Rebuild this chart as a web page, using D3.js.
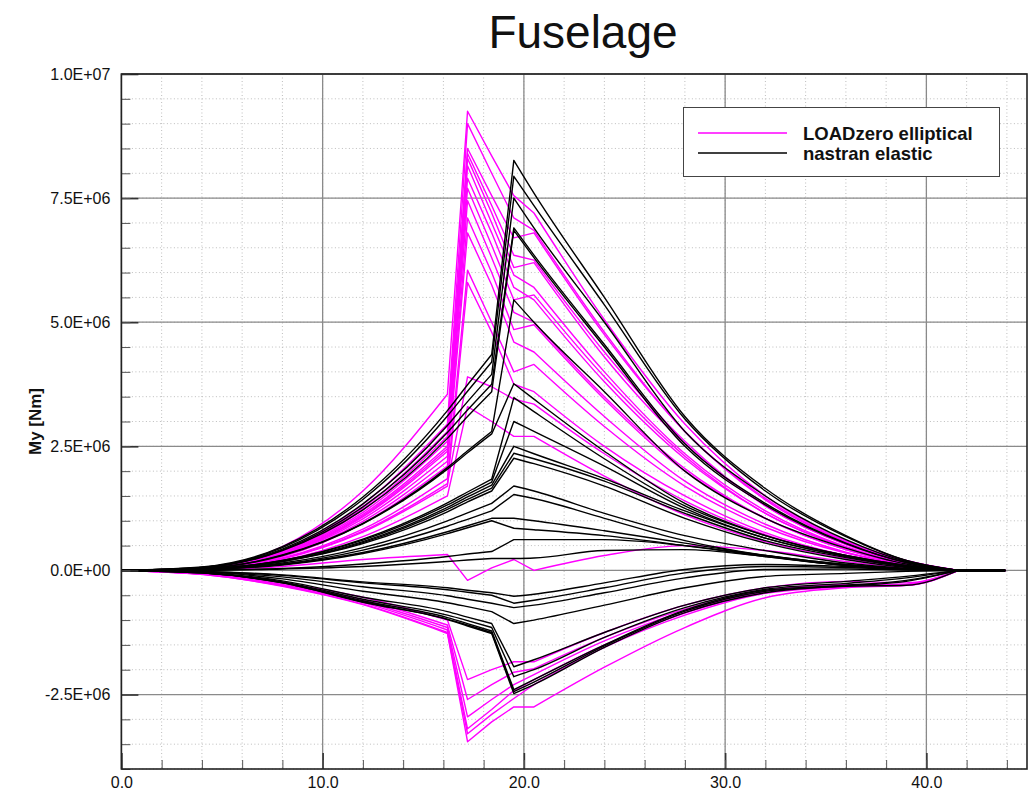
<!DOCTYPE html>
<html>
<head>
<meta charset="utf-8">
<script src="https://cdn.jsdelivr.net/npm/d3@7"></script>
<style>
    body { margin: 0; background: #fff; }
    text { font-family: "Liberation Sans", Arial, Helvetica, sans-serif; }
</style>
</head>
<body>
<svg id="chart" width="1031" height="791"></svg>
<script>
// fuselage stations [m]
var stations = [0, 4, 8, 12, 16.2, 17.2, 18.4, 19.5, 20.5, 24, 28, 32, 36, 39, 41.6, 43.9]

// My in 1e6 Nm, one row per load case, values at the stations above
var loadzeroMy = [
    [0, 0.05, 0.48, 1.6, 3.55, 9.25, 8.35, 7.55, 7.2, 5.05, 2.95, 1.5, 0.6, 0.2, 0, 0],
    [0, 0.04, 0.4, 1.33, 2.95, 9.0, 8.0, 7.1, 6.85, 4.8, 2.8, 1.45, 0.58, 0.19, 0, 0],
    [0, 0.04, 0.38, 1.26, 2.8, 8.5, 7.55, 6.7, 6.8, 4.75, 2.8, 1.42, 0.57, 0.18, 0, 0],
    [0, 0.04, 0.36, 1.22, 2.7, 8.4, 7.35, 6.35, 6.25, 4.4, 2.6, 1.3, 0.53, 0.17, 0, 0],
    [0, 0.04, 0.35, 1.17, 2.6, 8.3, 7.2, 6.1, 6.2, 4.3, 2.55, 1.3, 0.52, 0.16, 0, 0],
    [0, 0.04, 0.34, 1.13, 2.5, 8.15, 7.0, 5.95, 5.7, 4.0, 2.35, 1.2, 0.48, 0.15, 0, 0],
    [0, 0.04, 0.33, 1.1, 2.45, 7.9, 6.8, 5.7, 5.45, 3.8, 2.25, 1.15, 0.46, 0.14, 0, 0],
    [0, 0.04, 0.32, 1.08, 2.4, 7.7, 6.55, 5.45, 5.55, 3.9, 2.3, 1.15, 0.47, 0.15, 0, 0],
    [0, 0.03, 0.31, 1.04, 2.3, 7.45, 6.3, 5.2, 5.0, 3.5, 2.05, 1.05, 0.42, 0.13, 0, 0],
    [0, 0.03, 0.3, 0.99, 2.2, 7.1, 6.0, 4.85, 4.95, 3.45, 2.0, 1.05, 0.42, 0.13, 0, 0],
    [0, 0.03, 0.28, 0.95, 2.1, 6.8, 5.75, 4.6, 4.4, 3.1, 1.8, 0.93, 0.37, 0.12, 0, 0],
    [0, 0.03, 0.25, 0.83, 1.85, 6.05, 5.0, 4.0, 4.15, 2.9, 1.7, 0.87, 0.35, 0.11, 0, 0],
    [0, 0.03, 0.23, 0.77, 1.7, 5.8, 4.8, 3.75, 3.6, 2.5, 1.5, 0.76, 0.3, 0.1, 0, 0],
    [0, 0.03, 0.24, 0.79, 1.75, 3.9, 3.7, 3.45, 3.35, 2.35, 1.4, 0.72, 0.3, 0.1, 0, 0],
    [0, 0.02, 0.2, 0.68, 1.5, 3.3, 3.0, 2.7, 2.7, 1.9, 1.12, 0.58, 0.24, 0.08, 0, 0],
    [0, 0.01, 0.08, 0.22, 0.32, -0.2, 0.05, 0.22, 0.0, 0.3, 0.5, 0.4, 0.18, 0.05, 0, 0],
    [0, -0.06, -0.25, -0.54, -1.0, -2.2, -2.0, -1.84, -1.84, -1.25, -0.7, -0.35, -0.22, -0.25, 0, 0],
    [0, -0.07, -0.28, -0.59, -1.1, -2.6, -2.3, -2.05, -1.98, -1.35, -0.78, -0.4, -0.28, -0.28, 0, 0],
    [0, -0.07, -0.29, -0.62, -1.15, -2.95, -2.6, -2.3, -2.1, -1.42, -0.82, -0.42, -0.3, -0.3, 0, 0],
    [0, -0.07, -0.3, -0.65, -1.2, -3.19, -2.8, -2.42, -2.2, -1.5, -0.86, -0.44, -0.32, -0.3, 0, 0],
    [0, -0.08, -0.31, -0.68, -1.25, -3.29, -2.9, -2.58, -2.3, -1.55, -0.9, -0.46, -0.33, -0.28, 0, 0],
    [0, -0.08, -0.32, -0.69, -1.27, -3.45, -3.05, -2.75, -2.75, -1.95, -1.15, -0.55, -0.35, -0.3, 0, 0]
]

var nastranMy = [
    [0, 0.07, 0.48, 1.48, 3.22, 3.74, 4.35, 8.26, 7.6, 5.5, 3.1, 1.65, 0.7, 0.2, 0, 0],
    [0, 0.06, 0.46, 1.43, 3.11, 3.61, 4.2, 7.94, 7.35, 5.35, 3.05, 1.6, 0.68, 0.2, 0, 0],
    [0, 0.06, 0.43, 1.34, 2.92, 3.4, 3.95, 7.5, 6.9, 5.0, 2.8, 1.5, 0.62, 0.18, 0, 0],
    [0, 0.06, 0.41, 1.28, 2.78, 3.23, 3.75, 6.9, 6.35, 4.55, 2.55, 1.35, 0.55, 0.16, 0, 0],
    [0, 0.05, 0.4, 1.22, 2.66, 3.1, 3.6, 6.85, 6.3, 4.5, 2.5, 1.32, 0.54, 0.16, 0, 0],
    [0, 0.04, 0.31, 0.95, 2.07, 2.41, 2.8, 5.45, 5.0, 3.6, 2.0, 1.05, 0.45, 0.13, 0, 0],
    [0, 0.04, 0.3, 0.94, 2.04, 2.37, 2.75, 3.76, 3.45, 2.4, 1.35, 0.7, 0.3, 0.1, 0, 0],
    [0, 0.03, 0.2, 0.63, 1.36, 1.58, 1.84, 3.48, 3.2, 2.25, 1.3, 0.7, 0.3, 0.1, 0, 0],
    [0, 0.03, 0.2, 0.61, 1.32, 1.53, 1.78, 3.0, 2.8, 2.1, 1.25, 0.65, 0.28, 0.08, 0, 0],
    [0, 0.03, 0.19, 0.58, 1.27, 1.48, 1.72, 2.5, 2.35, 1.85, 1.2, 0.65, 0.28, 0.08, 0, 0],
    [0, 0.02, 0.18, 0.56, 1.23, 1.43, 1.66, 2.36, 2.25, 1.8, 1.15, 0.6, 0.26, 0.08, 0, 0],
    [0, 0.02, 0.18, 0.54, 1.18, 1.38, 1.6, 2.26, 2.15, 1.7, 1.05, 0.55, 0.22, 0.06, 0, 0],
    [0, 0.02, 0.15, 0.46, 1.0, 1.16, 1.35, 1.7, 1.6, 1.15, 0.7, 0.4, 0.15, 0.04, 0, 0],
    [0, 0.02, 0.13, 0.41, 0.89, 1.03, 1.2, 1.53, 1.45, 1.05, 0.6, 0.3, 0.1, 0.03, 0, 0],
    [0, 0.02, 0.12, 0.36, 0.78, 0.9, 1.05, 1.05, 1.0, 0.8, 0.55, 0.3, 0.12, 0.03, 0, 0],
    [0, 0.02, 0.11, 0.34, 0.74, 0.86, 1.0, 0.85, 0.82, 0.7, 0.5, 0.28, 0.1, 0.03, 0, 0],
    [0, 0.01, 0.04, 0.13, 0.28, 0.33, 0.38, 0.62, 0.62, 0.62, 0.5, 0.3, 0.12, 0.03, 0, 0],
    [0, 0, 0.03, 0.08, 0.18, 0.21, 0.24, 0.24, 0.25, 0.4, 0.42, 0.28, 0.1, 0.02, 0, 0],
    [0, -0.02, -0.09, -0.23, -0.35, -0.4, -0.45, -0.52, -0.48, -0.25, 0.02, 0.12, 0.08, 0.03, 0, 0],
    [0, -0.02, -0.1, -0.25, -0.39, -0.44, -0.5, -0.66, -0.6, -0.35, -0.05, 0.08, 0.06, 0.02, 0, 0],
    [0, -0.03, -0.13, -0.33, -0.51, -0.58, -0.66, -0.75, -0.7, -0.45, -0.15, 0.02, 0.03, 0.01, 0, 0],
    [0, -0.03, -0.17, -0.42, -0.65, -0.73, -0.83, -1.07, -1.0, -0.7, -0.35, -0.12, -0.06, -0.02, 0, 0],
    [0, -0.04, -0.21, -0.54, -0.83, -0.94, -1.07, -1.94, -1.8, -1.25, -0.7, -0.35, -0.22, -0.12, 0, 0],
    [0, -0.05, -0.23, -0.58, -0.9, -1.01, -1.15, -2.14, -2.0, -1.35, -0.75, -0.38, -0.26, -0.15, 0, 0],
    [0, -0.05, -0.24, -0.61, -0.95, -1.07, -1.22, -2.4, -2.2, -1.5, -0.8, -0.4, -0.3, -0.2, 0, 0],
    [0, -0.05, -0.25, -0.64, -0.99, -1.12, -1.27, -2.48, -2.3, -1.55, -0.85, -0.45, -0.32, -0.3, 0, 0],
    [0, -0.05, -0.25, -0.63, -0.98, -1.1, -1.25, -2.44, -2.25, -1.52, -0.82, -0.42, -0.31, -0.22, 0, 0]
]

var xMajorTicks = [0, 10, 20, 30, 40]
var yMajorTicks = [-2.5, 0, 2.5, 5, 7.5, 10]
var legendLabels = ["LOADzero elliptical", "nastran elastic"]
var seriesColors = ["#f0f", "#000"]

// which station ranges are drawn smooth (true) or straight (false)
var loadzeroPieces = [[0, 4, true], [4, 8, false], [8, 14, true], [14, 15, false]]
var nastranPieces = [[0, 6, true], [6, 7, false], [7, 14, true], [14, 15, false]]

var plotLeft = 121.4, plotRight = 1027, plotTop = 74, plotBottom = 769

var x = d3.scaleLinear().domain([0, 45]).range([plotLeft, plotRight])
var y = d3.scaleLinear().domain([-4, 10]).range([plotBottom, plotTop])

var svg = d3.select("#chart")

function sci(v) {
    if (v === 0) return "0.0E+00"
    var s = (v * 1e6).toExponential(1).split("e")
    var e = Math.abs(+s[1])
    return s[0] + "E" + (+s[1] < 0 ? "-" : "+") + (e < 10 ? "0" : "") + e
}

// minor grid (dotted)
svg.append("g").selectAll("line").data(x.ticks(22)).join("line")
    .attr("x1", d => x(d)).attr("x2", d => x(d))
    .attr("y1", plotTop).attr("y2", plotBottom)
    .attr("stroke", "#bdbdbd").attr("stroke-width", 1).attr("stroke-dasharray", "1,2.5")
svg.append("g").selectAll("line").data(y.ticks(28)).join("line")
    .attr("x1", plotLeft).attr("x2", plotRight)
    .attr("y1", d => y(d)).attr("y2", d => y(d))
    .attr("stroke", "#bdbdbd").attr("stroke-width", 1).attr("stroke-dasharray", "1,2.5")

// major grid
svg.append("g").selectAll("line").data(xMajorTicks).join("line")
    .attr("x1", d => x(d)).attr("x2", d => x(d))
    .attr("y1", plotTop).attr("y2", plotBottom)
    .attr("stroke", "#8a8a8a").attr("stroke-width", 1.3)
svg.append("g").selectAll("line").data(yMajorTicks).join("line")
    .attr("x1", plotLeft).attr("x2", plotRight)
    .attr("y1", d => y(d)).attr("y2", d => y(d))
    .attr("stroke", "#8a8a8a").attr("stroke-width", 1.3)

svg.append("clipPath").attr("id", "plotClip")
    .append("rect").attr("x", plotLeft).attr("y", plotTop)
    .attr("width", plotRight - plotLeft).attr("height", plotBottom - plotTop)

var plot = svg.append("g").attr("clip-path", "url(#plotClip)")

function drawCurves(rows, color, pieces) {
    rows.forEach(function (row) {
        var pts = row.map((v, i) => [stations[i], v])
        var ctx = d3.path()
        pieces.forEach(function (p) {
            d3.line()
                .x(d => x(d[0]))
                .y(d => y(d[1]))
                .curve(p[2] ? d3.curveMonotoneX : d3.curveLinear)
                .context(ctx)(pts.slice(p[0], p[1] + 1))
        })
        plot.append("path")
            .attr("d", ctx.toString())
            .attr("fill", "none")
            .attr("stroke", color)
            .attr("stroke-width", 1.4)
            .attr("stroke-linecap", "round")
            .attr("stroke-linejoin", "round")
    })
}

drawCurves(loadzeroMy, seriesColors[0], loadzeroPieces)
drawCurves(nastranMy, seriesColors[1], nastranPieces)

// ticks, inside the frame
var yAxis = svg.append("g").attr("transform", "translate(" + plotLeft + ",0)")
    .call(d3.axisLeft(y).tickValues(yMajorTicks).tickSize(-17).tickPadding(11).tickFormat(sci))
var yMinor = svg.append("g").attr("transform", "translate(" + plotLeft + ",0)")
    .call(d3.axisLeft(y).tickValues(y.ticks(28)).tickSize(-9).tickFormat(""))
var xAxis = svg.append("g").attr("transform", "translate(0," + plotBottom + ")")
    .call(d3.axisBottom(x).tickValues(xMajorTicks).tickSize(-16).tickPadding(8).tickFormat(d3.format(".1f")))
var xMinor = svg.append("g").attr("transform", "translate(0," + plotBottom + ")")
    .call(d3.axisBottom(x).tickValues(x.ticks(22)).tickSize(-9).tickFormat(""))

svg.selectAll(".domain").remove()
yAxis.selectAll("line").attr("stroke", "#333").attr("stroke-width", 1.6)
xAxis.selectAll("line").attr("stroke", "#333").attr("stroke-width", 1.6)
yMinor.selectAll("line").attr("stroke", "#555").attr("stroke-width", 1)
xMinor.selectAll("line").attr("stroke", "#555").attr("stroke-width", 1)
svg.selectAll(".tick text")
    .attr("font-family", '"Liberation Sans", Arial, sans-serif')
    .attr("font-size", 16)
    .attr("fill", "#111")

// frame
svg.append("rect")
    .attr("x", plotLeft).attr("y", plotTop)
    .attr("width", plotRight - plotLeft).attr("height", plotBottom - plotTop)
    .attr("fill", "none").attr("stroke", "#222").attr("stroke-width", 1.6)

svg.append("text")
    .attr("x", 583).attr("y", 48)
    .attr("text-anchor", "middle")
    .attr("font-size", 46)
    .attr("fill", "#111")
    .text("Fuselage")

svg.append("text")
    .attr("transform", "translate(41," + ((plotTop + plotBottom) / 2) + ") rotate(-90)")
    .attr("text-anchor", "middle")
    .attr("font-size", 17)
    .attr("font-weight", "bold")
    .attr("fill", "#111")
    .text("My [Nm]")

// legend
var legend = svg.append("g")
legend.append("rect")
    .attr("x", 683.5).attr("y", 107.5).attr("width", 316).attr("height", 69)
    .attr("fill", "#fff").attr("stroke", "#444").attr("stroke-width", 1)
legendLabels.forEach(function (label, i) {
    var ly = 133 + i * 20
    legend.append("line")
        .attr("x1", 698).attr("x2", 787).attr("y1", ly).attr("y2", ly)
        .attr("stroke", seriesColors[i]).attr("stroke-width", 1.4)
    legend.append("text")
        .attr("x", 803).attr("y", ly + 6.5)
        .attr("font-size", 18.5)
        .attr("font-weight", "bold")
        .attr("fill", "#111")
        .text(label)
})
</script>
</body>
</html>
